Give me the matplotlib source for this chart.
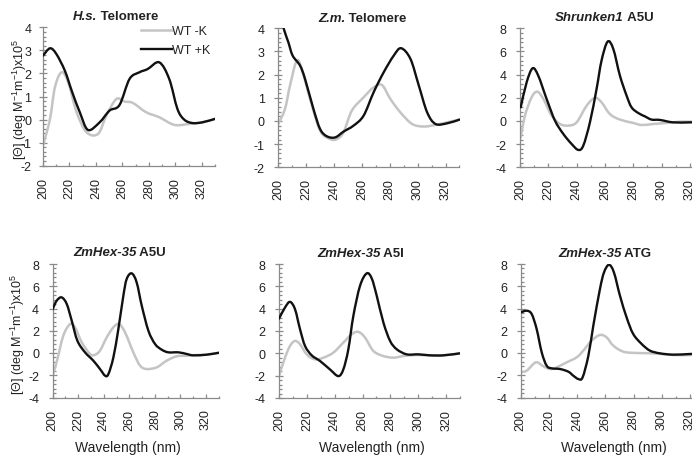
import matplotlib
matplotlib.use("Agg")
import matplotlib.pyplot as plt
from matplotlib.ticker import MultipleLocator
from matplotlib.path import Path
from matplotlib.patches import PathPatch
from matplotlib.lines import Line2D

plt.rcParams["font.family"] = ["Liberation Sans", "DejaVu Sans"]
plt.rcParams["mathtext.fontset"] = "custom"
plt.rcParams["mathtext.rm"] = "Liberation Sans"
plt.rcParams["mathtext.it"] = "Liberation Sans:italic"
plt.rcParams["mathtext.bf"] = "Liberation Sans:bold"
plt.rcParams["mathtext.default"] = "regular"
plt.rcParams["axes.unicode_minus"] = False

# ---- CD spectra (wavelength in nm, ellipticity x10^5) ----
hs_wl_minus = [200, 205.3, 209, 214, 219, 225.4, 232.9, 241.6, 247.9, 255.4, 261.6,
               267.9, 277.9, 287.9, 299.2, 310.4, 320.4, 330]
hs_minus = [-1.13, 0.03, 1.40, 2.05, 1.62, 0.32, -0.55, -0.62, 0.17, 0.89, 0.78,
            0.72, 0.32, 0.10, -0.23, -0.19, -0.12, 0.03]
hs_wl_plus = [200, 205.3, 210, 216.5, 222, 227.8, 234, 242.8, 250.3, 257.8, 265.4,
              272.9, 279.1, 287.9, 295.4, 301.6, 306.7, 312.9, 320.4, 330]
hs_plus = [2.77, 3.09, 2.85, 2.12, 1.20, 0.32, -0.45, -0.12, 0.39, 0.63, 1.76,
           2.05, 2.19, 2.48, 1.76, 0.46, 0.00, -0.15, -0.12, 0.03]

zm_wl_minus = [200, 204.8, 208.4, 213.2, 216.8, 222.8, 230, 237.2, 242, 246.8, 252.8,
               261.2, 268.4, 274.4, 280.4, 287.6, 296, 304.4, 312.8, 321.2, 330]
zm_minus = [-0.13, 0.52, 1.53, 2.60, 2.24, 0.95, -0.42, -0.78, -0.78, -0.49, 0.45,
            1.02, 1.45, 1.55, 0.95, 0.37, -0.13, -0.24, -0.17, -0.06, 0.06]
zm_wl_plus = [200, 203.6, 207.2, 210.3, 215.6, 219.2, 225.2, 230, 234.8, 240.8, 246.8,
              254, 261.2, 268.4, 275.6, 282.8, 288.1, 294.8, 300.8, 306.8, 312.8,
              321.2, 330]
zm_plus = [4.90, 4.04, 3.40, 2.82, 2.39, 1.81, 0.52, -0.35, -0.66, -0.71, -0.46,
           -0.20, 0.23, 1.24, 2.10, 2.82, 3.14, 2.68, 1.53, 0.37, -0.13, -0.10, 0.06]

sh_wl_minus = [200.5, 203.5, 208.2, 212.2, 216.5, 222.4, 228.2, 234.1, 240, 247.1,
               252.9, 257.6, 263.5, 270.6, 280, 285.9, 294.1, 303.5, 312.9, 320, 330]
sh_minus = [-1.41, 0.46, 2.04, 2.53, 1.90, 0.46, -0.26, -0.40, -0.12, 1.32,
            1.99, 1.61, 0.60, 0.12, -0.17, -0.35, -0.26, -0.17, -0.06, -0.06, -0.06]
sh_wl_plus = [200.5, 204.7, 208.9, 212.9, 218.8, 224.7, 230.6, 236.5, 241.2, 244.7,
              249.4, 254.1, 257.6, 261.9, 265.9, 270.6, 275.3, 278.8, 283.5, 288.2,
              292.9, 298.8, 308.2, 320, 330]
sh_plus = [1.18, 3.34, 4.55, 3.91, 1.90, 0.03, -1.12, -1.99, -2.50, -2.13,
           -0.12, 2.76, 5.21, 6.85, 6.22, 3.91, 2.19, 1.18, 0.69, 0.40,
           0.12, 0.09, -0.12, -0.12, -0.10]

a5u_wl_minus = [200, 203.7, 208.3, 213.6, 217.5, 222.7, 229.2, 232.6, 237, 242.3,
                247.5, 251.9, 256.6, 263.1, 268.4, 273.6, 281.4, 289.2, 297, 304.9,
                312.7, 320.5, 328.4, 330]
a5u_minus = [-2.04, -0.54, 1.56, 2.60, 2.30, 0.96, -0.09, -0.18, 0.21, 1.41,
             2.31, 2.60, 1.86, 0.06, -1.14, -1.44, -1.29, -0.69, -0.30, -0.24,
             -0.18, -0.15, 0.00, 0.00]
a5u_wl_plus = [200, 203.1, 207, 211, 214.9, 219.3, 225.3, 231.8, 237, 241, 243.6,
               247.5, 251.4, 255.3, 257.9, 261.8, 265.7, 269.7, 274.9, 280.1, 285.3,
               290.5, 298.4, 304.9, 310.1, 320.5, 330]
a5u_plus = [3.95, 4.70, 5.00, 4.40, 2.90, 1.11, 0.06, -0.69, -1.44, -2.04, -1.89,
            -0.39, 2.16, 5.15, 6.65, 7.16, 6.35, 4.25, 2.00, 0.81, 0.30,
            0.06, 0.06, -0.09, -0.21, -0.15, 0.02]

a5i_wl_minus = [200, 204.3, 207.9, 211.5, 215.1, 219.9, 225.9, 231.9, 239, 246.2,
                252.2, 257, 261.8, 267.8, 275, 282.2, 289.3, 298.9, 308.5, 318.1, 330]
a5i_minus = [-2.04, -0.39, 0.66, 1.11, 0.81, -0.09, -0.54, -0.39, 0.06, 0.96,
             1.71, 1.92, 1.41, 0.21, -0.24, -0.39, -0.24, -0.15, -0.18, -0.18, 0.00]
a5i_wl_plus = [200, 204.3, 207.9, 211.5, 215.1, 218.7, 223.5, 229.5, 236.6, 242.6,
               246.2, 249.8, 253.4, 258.2, 263, 266.6, 270.2, 275, 279.8, 284.6,
               291.7, 300.1, 308.5, 318.1, 330]
a5i_plus = [3.11, 4.10, 4.61, 3.95, 2.16, 0.66, -0.18, -0.69, -1.44, -2.04,
            -1.44, 0.36, 3.35, 6.05, 7.16, 6.71, 5.15, 2.75, 1.11, 0.36,
            -0.09, -0.09, -0.18, -0.18, 0.00]

atg_wl_minus = [200, 204.3, 209, 211.8, 216.1, 220.8, 225.5, 232.6, 239.7, 244.4,
                250.3, 256.2, 260.9, 265.7, 272.8, 282.2, 294, 308.2, 320, 330]
atg_minus = [-1.74, -1.59, -0.99, -0.84, -1.20, -1.44, -1.29, -0.84, -0.39, 0.21,
             1.11, 1.62, 1.41, 0.66, 0.12, 0.00, -0.03, -0.18, -0.18, -0.12]
atg_wl_plus = [200, 204.3, 207.8, 211.3, 214.9, 218.4, 222, 227.9, 233.8, 237.3,
               240.9, 243.9, 248, 251.5, 256.2, 259.1, 262.6, 266.1, 270.4, 275.1,
               279.8, 285.8, 291.7, 298.7, 308.2, 320, 330]
atg_plus = [3.65, 3.80, 3.50, 2.16, 0.06, -1.14, -1.38, -1.44, -1.68, -2.04,
            -2.34, -2.19, -0.24, 2.46, 5.75, 7.25, 7.93, 7.25, 5.15, 3.20,
            1.71, 0.81, 0.21, -0.03, -0.15, -0.09, -0.05]

titles_italic = ["H.s.", "Z.m.", "Shrunken1", "ZmHex-35", "ZmHex-35", "ZmHex-35"]
titles_plain = [" Telomere", " Telomere", " A5U", " A5U", " A5I", " ATG"]
series_labels = ["WT -K", "WT +K"]
y_label = "[Θ] (deg M$^{-1}$m$^{-1}$)x10$^{5}$"
x_label = "Wavelength (nm)"

W, H = 692, 460
fig = plt.figure(figsize=(W / 100, H / 100), dpi=100)
fig.patch.set_facecolor("white")

GREY = "#c4c4c4"
BLACK = "#111111"
AXIS = "#8a8a8a"
TXT = "#222222"


def px_rect(left, top, right, bottom):
    return [left / W, 1 - bottom / H, (right - left) / W, (bottom - top) / H]


def smooth_path(xs, ys):
    """Smoothed polyline (spreadsheet-style) as cubic Bezier segments through the points."""
    pts = list(zip(xs, ys))
    n = len(pts)
    verts = [pts[0]]
    codes = [Path.MOVETO]
    for i in range(n - 1):
        p0 = pts[i - 1] if i > 0 else pts[i]
        p1 = pts[i]
        p2 = pts[i + 1]
        p3 = pts[i + 2] if i + 2 < n else pts[i + 1]
        c1 = (p1[0] + (p2[0] - p0[0]) / 6, p1[1] + (p2[1] - p0[1]) / 6)
        c2 = (p2[0] - (p3[0] - p1[0]) / 6, p2[1] - (p3[1] - p1[1]) / 6)
        verts += [c1, c2, p2]
        codes += [Path.CURVE4] * 3
    return Path(verts, codes)


panels = [
    dict(rect=(43, 28.3, 215, 166.7), ylim=(-2, 4), ymaj=1,
         minus=(hs_wl_minus, hs_minus), plus=(hs_wl_plus, hs_plus),
         tx=73, ty=20, ypad=5.5),
    dict(rect=(278.3, 29.3, 459.5, 168.3), ylim=(-2, 4), ymaj=1,
         minus=(zm_wl_minus, zm_minus), plus=(zm_wl_plus, zm_plus),
         tx=318, ty=21.5, ypad=7),
    dict(rect=(520, 29.3, 704, 168.3), ylim=(-4, 8), ymaj=2,
         minus=(sh_wl_minus, sh_minus), plus=(sh_wl_plus, sh_plus),
         tx=555, ty=20.7, ypad=7),
    dict(rect=(52.7, 265, 218.8, 398.5), ylim=(-4, 8), ymaj=2,
         minus=(a5u_wl_minus, a5u_minus), plus=(a5u_wl_plus, a5u_plus),
         tx=73, ty=256, ypad=7),
    dict(rect=(279, 265, 460, 399), ylim=(-4, 8), ymaj=2,
         minus=(a5i_wl_minus, a5i_minus), plus=(a5i_wl_plus, a5i_plus),
         tx=317, ty=256.7, ypad=7),
    dict(rect=(520.7, 265, 704, 398.5), ylim=(-4, 8), ymaj=2,
         minus=(atg_wl_minus, atg_minus), plus=(atg_wl_plus, atg_plus),
         tx=558, ty=257, ypad=7),
]

line_styles = [dict(color=GREY, lw=1.8, zorder=2), dict(color=BLACK, lw=1.7, zorder=3)]

axes = []
for i, p in enumerate(panels):
    ax = fig.add_axes(px_rect(*p["rect"]))
    axes.append(ax)
    ax.set_facecolor("none")
    for (xs, ys), st in zip((p["minus"], p["plus"]), line_styles):
        patch = PathPatch(smooth_path(xs, ys), fill=False, edgecolor=st["color"],
                          lw=st["lw"], zorder=st["zorder"], joinstyle="round",
                          capstyle="round", transform=ax.transData)
        ax.add_patch(patch)
    ax.set_xlim(200, 330)
    ax.set_ylim(*p["ylim"])
    for s in ("top", "right"):
        ax.spines[s].set_visible(False)
    for s in ("left", "bottom"):
        ax.spines[s].set_color(AXIS)
        ax.spines[s].set_linewidth(0.9)
    ax.xaxis.set_major_locator(MultipleLocator(20))
    ax.xaxis.set_minor_locator(MultipleLocator(10))
    ax.yaxis.set_major_locator(MultipleLocator(p["ymaj"]))
    ax.yaxis.set_minor_locator(MultipleLocator(p["ymaj"] / 5))
    ax.tick_params(axis="x", which="major", direction="in", length=3.2, width=0.9,
                   color=AXIS, pad=8, labelsize=9, labelcolor=TXT, labelrotation=90)
    ax.tick_params(axis="x", which="minor", direction="in", length=1.8, width=0.9,
                   color=AXIS)
    ax.tick_params(axis="y", which="major", direction="inout", length=5.5, width=0.9,
                   color=AXIS, pad=p["ypad"], labelsize=9, labelcolor=TXT)
    ax.tick_params(axis="y", which="minor", direction="in", length=2.2, width=0.9,
                   color=AXIS)
    for lab in ax.get_xticklabels():
        lab.set_va("top")
        lab.set_ha("center")

    # title: italic bold name followed by bold label
    t1 = fig.text(p["tx"] / W, 1 - p["ty"] / H, titles_italic[i], fontsize=9.5,
                  fontweight="bold", fontstyle="italic", color=TXT, va="baseline",
                  ha="left")
    ax.annotate(titles_plain[i], xy=(1, 0), xycoords=t1, va="bottom", ha="left",
                fontsize=9.5, fontweight="bold", color=TXT, annotation_clip=False)

    if i >= 3:
        fig.text([128, 372, 614][i - 3] / W, 1 - 448 / H, x_label, fontsize=10,
                 color=TXT, ha="center", va="center")

# y-axis labels on the first column
fig.text(20 / W, 1 - 99 / H, y_label, rotation=90, fontsize=9, color=TXT,
         ha="center", va="center")
fig.text(18 / W, 1 - 334 / H, y_label, rotation=90, fontsize=9, color=TXT,
         ha="center", va="center")

handles = [Line2D([], [], color=st["color"], lw=st["lw"]) for st in line_styles]
axes[0].legend(handles, series_labels, frameon=False, loc="upper left",
               bbox_to_anchor=(141 / W, 1 - 26 / H), bbox_transform=fig.transFigure,
               fontsize=9, handlelength=2.5, handletextpad=0.0, labelspacing=0.55,
               borderpad=0, borderaxespad=0, labelcolor=TXT)

fig.savefig("out.png", dpi=100, facecolor="white")
